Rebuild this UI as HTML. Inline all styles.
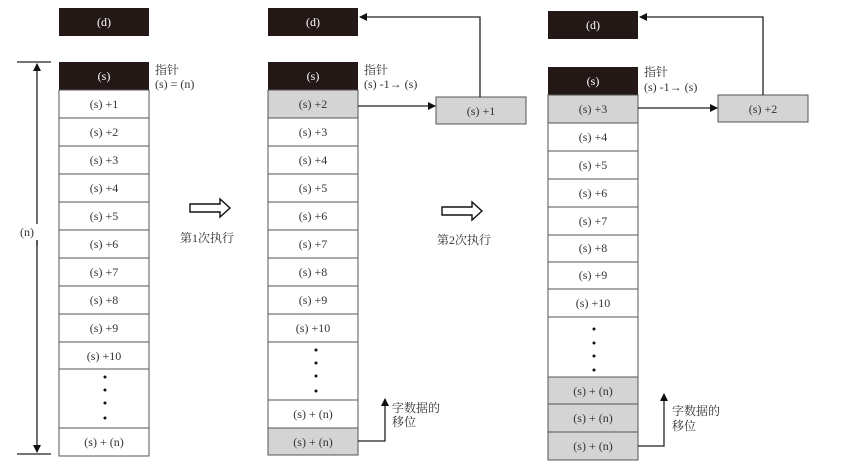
<!DOCTYPE html>
<html><head><meta charset="utf-8"><style>
html,body{margin:0;padding:0;background:#fff;width:865px;height:472px;overflow:hidden}
text{font-family:"Liberation Serif","Noto Serif CJK SC",serif;font-size:12px;fill:#333}
.w{fill:#fff;stroke:#555;stroke-width:1}
.g{fill:#d4d4d4;stroke:#555;stroke-width:1}
.k{fill:#231815}
.l{stroke:#222;stroke-width:1.3;fill:none}
</style></head><body>
<svg width="865" height="472" xmlns="http://www.w3.org/2000/svg">
<defs><marker id="a" markerWidth="8" markerHeight="8" refX="7" refY="4" orient="auto" markerUnits="userSpaceOnUse"><path d="M0,0 L8,4 L0,8z" fill="#111"/></marker></defs>

<!-- Column 1 -->
<rect class="k" x="59" y="8" width="90" height="28"/><text x="104" y="26" text-anchor="middle" style="fill:#fff">(d)</text>
<rect class="k" x="59" y="62" width="90" height="28"/><text x="104" y="80" text-anchor="middle" style="fill:#fff">(s)</text>
<g text-anchor="middle">
<rect class="w" x="59" y="90" width="90" height="28"/><text x="104" y="108">(s) +1</text>
<rect class="w" x="59" y="118" width="90" height="28"/><text x="104" y="136">(s) +2</text>
<rect class="w" x="59" y="146" width="90" height="28"/><text x="104" y="164">(s) +3</text>
<rect class="w" x="59" y="174" width="90" height="28"/><text x="104" y="192">(s) +4</text>
<rect class="w" x="59" y="202" width="90" height="28"/><text x="104" y="220">(s) +5</text>
<rect class="w" x="59" y="230" width="90" height="28"/><text x="104" y="248">(s) +6</text>
<rect class="w" x="59" y="258" width="90" height="28"/><text x="104" y="276">(s) +7</text>
<rect class="w" x="59" y="286" width="90" height="28"/><text x="104" y="304">(s) +8</text>
<rect class="w" x="59" y="314" width="90" height="28"/><text x="104" y="332">(s) +9</text>
<rect class="w" x="59" y="342" width="90" height="27"/><text x="104" y="360">(s) +10</text>
<rect class="w" x="59" y="369" width="90" height="59"/>
<rect class="w" x="59" y="428" width="90" height="28"/><text x="104" y="446">(s) + (n)</text>
</g>
<g fill="#111"><circle cx="105" cy="377" r="1.5"/><circle cx="105" cy="390" r="1.5"/><circle cx="105" cy="403" r="1.5"/><circle cx="105" cy="418" r="1.5"/></g>
<text x="155" y="74">指针</text><text x="155" y="88">(s) = (n)</text>
<line x1="17" y1="62" x2="51" y2="62" class="l"/><line x1="17" y1="454" x2="51" y2="454" class="l"/>
<line x1="37" y1="246" x2="37" y2="64" class="l" marker-end="url(#a)"/>
<line x1="37" y1="240" x2="37" y2="452" class="l" marker-end="url(#a)"/>
<rect x="20" y="224" width="20" height="16" fill="#fff"/><text x="20" y="236">(n)</text>

<!-- hollow arrows -->
<path d="M190,204 H220 V199 L230,208 L220,217 V212 H190z" fill="#fff" stroke="#111" stroke-width="1.4"/>
<text x="180" y="242">第1次执行</text>
<path d="M442,207 H472 V202 L482,211 L472,220 V215 H442z" fill="#fff" stroke="#111" stroke-width="1.4"/>
<text x="437" y="244">第2次执行</text>

<!-- Column 2 -->
<rect class="k" x="268" y="8" width="90" height="28"/><text x="313" y="26" text-anchor="middle" style="fill:#fff">(d)</text>
<rect class="k" x="268" y="62" width="90" height="28"/><text x="313" y="80" text-anchor="middle" style="fill:#fff">(s)</text>
<g text-anchor="middle">
<rect class="g" x="268" y="90" width="90" height="28"/><text x="313" y="108">(s) +2</text>
<rect class="w" x="268" y="118" width="90" height="28"/><text x="313" y="136">(s) +3</text>
<rect class="w" x="268" y="146" width="90" height="28"/><text x="313" y="164">(s) +4</text>
<rect class="w" x="268" y="174" width="90" height="28"/><text x="313" y="192">(s) +5</text>
<rect class="w" x="268" y="202" width="90" height="28"/><text x="313" y="220">(s) +6</text>
<rect class="w" x="268" y="230" width="90" height="28"/><text x="313" y="248">(s) +7</text>
<rect class="w" x="268" y="258" width="90" height="28"/><text x="313" y="276">(s) +8</text>
<rect class="w" x="268" y="286" width="90" height="28"/><text x="313" y="304">(s) +9</text>
<rect class="w" x="268" y="314" width="90" height="28"/><text x="313" y="332">(s) +10</text>
<rect class="w" x="268" y="342" width="90" height="58"/>
<rect class="w" x="268" y="400" width="90" height="28"/><text x="313" y="418">(s) + (n)</text>
<rect class="g" x="268" y="428" width="90" height="27"/><text x="313" y="446">(s) + (n)</text>
<rect class="g" x="436" y="97" width="90" height="27"/><text x="481" y="115">(s) +1</text>
</g>
<g fill="#111"><circle cx="316" cy="350" r="1.5"/><circle cx="316" cy="363" r="1.5"/><circle cx="316" cy="376" r="1.5"/><circle cx="316" cy="391" r="1.5"/></g>
<text x="364" y="74">指针</text><text x="364" y="88">(s) -1→ (s)</text>
<line x1="358" y1="106" x2="435" y2="106" class="l" marker-end="url(#a)"/>
<polyline points="480,97 480,17 360,17" class="l" marker-end="url(#a)"/>
<polyline points="358,441 385,441 385,399" class="l" marker-end="url(#a)"/>
<text x="392" y="412">字数据的</text><text x="392" y="426">移位</text>

<!-- Column 3 -->
<rect class="k" x="548" y="11" width="90" height="28"/><text x="593" y="29" text-anchor="middle" style="fill:#fff">(d)</text>
<rect class="k" x="548" y="67" width="90" height="28"/><text x="593" y="85" text-anchor="middle" style="fill:#fff">(s)</text>
<g text-anchor="middle">
<rect class="g" x="548" y="95" width="90" height="28"/><text x="593" y="113">(s) +3</text>
<rect class="w" x="548" y="123" width="90" height="28"/><text x="593" y="141">(s) +4</text>
<rect class="w" x="548" y="151" width="90" height="28"/><text x="593" y="169">(s) +5</text>
<rect class="w" x="548" y="179" width="90" height="28"/><text x="593" y="197">(s) +6</text>
<rect class="w" x="548" y="207" width="90" height="28"/><text x="593" y="225">(s) +7</text>
<rect class="w" x="548" y="235" width="90" height="27"/><text x="593" y="252">(s) +8</text>
<rect class="w" x="548" y="262" width="90" height="27"/><text x="593" y="279">(s) +9</text>
<rect class="w" x="548" y="289" width="90" height="28"/><text x="593" y="307">(s) +10</text>
<rect class="w" x="548" y="317" width="90" height="60"/>
<rect class="g" x="548" y="377" width="90" height="27"/><text x="593" y="395">(s) + (n)</text>
<rect class="g" x="548" y="404" width="90" height="28"/><text x="593" y="422">(s) + (n)</text>
<rect class="g" x="548" y="432" width="90" height="28"/><text x="593" y="450">(s) + (n)</text>
<rect class="g" x="718" y="95" width="90" height="27"/><text x="763" y="113">(s) +2</text>
</g>
<g fill="#111"><circle cx="594" cy="329" r="1.5"/><circle cx="594" cy="343" r="1.5"/><circle cx="594" cy="356" r="1.5"/><circle cx="594" cy="370" r="1.5"/></g>
<text x="644" y="76">指针</text><text x="644" y="91">(s) -1→ (s)</text>
<line x1="638" y1="108" x2="717" y2="108" class="l" marker-end="url(#a)"/>
<polyline points="763,95 763,17 640,17" class="l" marker-end="url(#a)"/>
<polyline points="638,446 664,446 664,394" class="l" marker-end="url(#a)"/>
<text x="672" y="415">字数据的</text><text x="672" y="430">移位</text>
</svg>
</body></html>
